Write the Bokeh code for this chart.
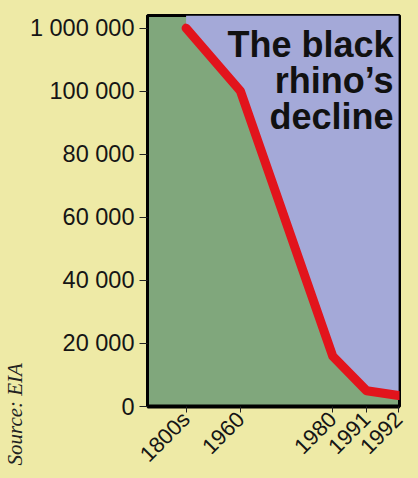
import math
from bokeh.plotting import figure
from bokeh.models import FixedTicker, Label, ColumnDataSource, Range1d, Title
from bokeh.embed import file_html
from bokeh.resources import INLINE

# ---- data -------------------------------------------------------------
periods = ["1800s", "1960", "1980", "1991", "1992"]
rhinos = [1000000, 100000, 16000, 5000, 3500]
period_pos = [0.15, 1.0, 2.44, 2.97, 3.47]     # schematic spacing of the time axis
y_tick_values = [0, 20000, 40000, 60000, 80000, 100000, 1000000]
y_tick_labels = ["0", "20 000", "40 000", "60 000", "80 000", "100 000", "1 000 000"]
title_lines = ["The black", "rhino\u2019s", "decline"]
source_text = "Source: EIA"

# ---- colours ----------------------------------------------------------
BG = "#eeeaa6"
GREEN = "#80a77c"
BLUE = "#a4a9d8"
RED = "#e2141c"

# broken axis: everything above 100 000 is squeezed into one extra step
BREAK = 100000
def to_axis(v):
    return v if v <= BREAK else BREAK + (v - BREAK) / 900000 * 20000

Y_END = 124000
line_y = [to_axis(v) for v in rhinos]
src = ColumnDataSource(dict(x=period_pos, y=line_y, top=[Y_END] * len(rhinos)))

p = figure(width=418, height=478,
           x_range=Range1d(-0.453, 3.484), y_range=Range1d(0, Y_END),
           output_backend="svg", toolbar_location=None,
           min_border_left=147, min_border_right=19,
           min_border_top=15, min_border_bottom=69)

p.background_fill_color = GREEN
p.border_fill_color = BG
p.outline_line_color = "black"
p.outline_line_width = 3
p.grid.visible = False

p.varea(x="x", y1="y", y2="top", source=src, fill_color=BLUE)
p.line(x="x", y="y", source=src, line_color=RED, line_width=9,
       line_join="round", line_cap="round")

# y axis
p.yaxis.ticker = FixedTicker(ticks=[to_axis(v) for v in y_tick_values])
p.yaxis.major_label_overrides = {to_axis(v): lab for v, lab in zip(y_tick_values, y_tick_labels)}
p.yaxis.major_label_text_font = "Liberation Sans"
p.yaxis.major_label_text_font_size = "23.5px"
p.yaxis.major_label_text_color = "#151515"
p.yaxis.major_label_standoff = 5
p.yaxis.major_tick_out = 8
p.yaxis.major_tick_in = 0
p.yaxis.major_tick_line_color = "#222222"
p.yaxis.minor_tick_line_color = None
p.yaxis.axis_line_width = 3
p.yaxis.axis_line_color = "black"

# x axis
p.xaxis.ticker = FixedTicker(ticks=period_pos)
p.xaxis.major_label_overrides = {x: lab for x, lab in zip(period_pos, periods)}
p.xaxis.major_label_orientation = math.pi / 4
p.xaxis.major_label_text_font = "Liberation Sans"
p.xaxis.major_label_text_font_size = "22px"
p.xaxis.major_label_text_color = "#151515"
p.xaxis.major_label_standoff = 3
p.xaxis.major_tick_out = 6
p.xaxis.major_tick_in = 0
p.xaxis.major_tick_line_color = "#222222"
p.xaxis.minor_tick_line_color = None
p.xaxis.axis_line_width = 4
p.xaxis.axis_line_color = "black"

# title inside the plot (top right)
for i, line in enumerate(title_lines):
    p.add_layout(Label(x=3.39, y=114900 - i * 11500, text=line,
                       text_align="right", text_baseline="alphabetic",
                       text_font="Liberation Sans", text_font_style="bold",
                       text_font_size="36px", text_color="#111111"))

# source, rotated, at the far left
p.add_layout(Title(text=source_text, align="left", offset=-59, standoff=0,
                   text_font="Liberation Serif", text_font_style="italic",
                   text_font_size="21px", text_color="#222222"), "left")

html = None
try:
    from bokeh.core.templates import get_env
    tmpl = get_env().from_string(
        '{% extends "file.html" %}{% block preamble %}'
        '<style>html,body{background:' + BG + ';}</style>{% endblock %}')
    html = file_html(p, INLINE, template=tmpl)
except Exception:
    html = file_html(p, INLINE)

open("out.html", "w").write(html)
